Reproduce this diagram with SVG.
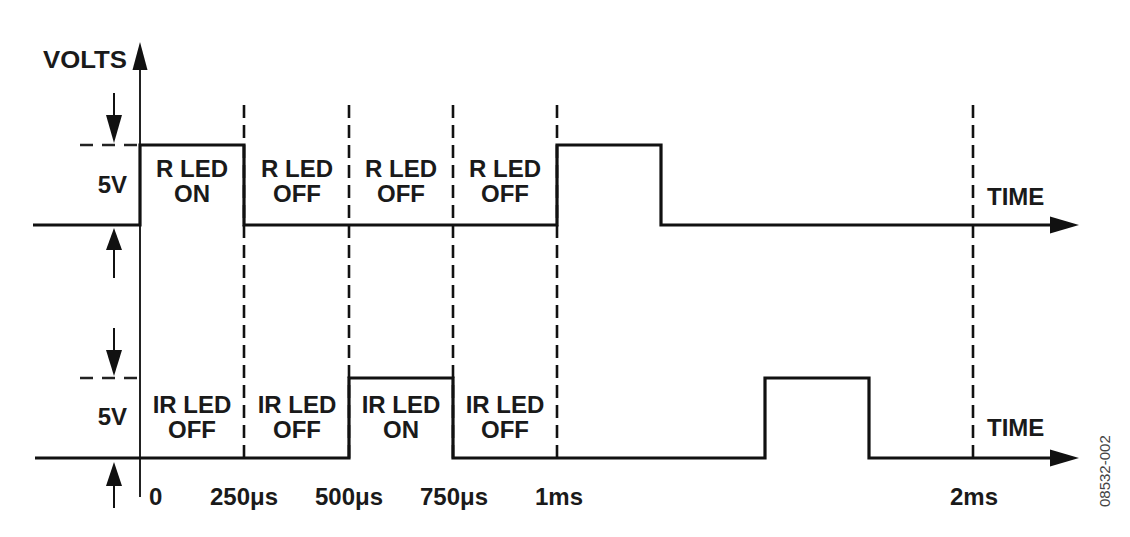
<svg xmlns="http://www.w3.org/2000/svg" width="1130" height="537" viewBox="0 0 1130 537">
<style>
.t{font-family:"Liberation Sans",Arial,sans-serif;font-weight:bold;font-size:24px;fill:#1a1a1a}
.c{text-anchor:middle}
.r{text-anchor:end}
.sig{fill:none;stroke:#111;stroke-width:3.2;stroke-linejoin:miter}
.axis{fill:none;stroke:#222;stroke-width:2}
.grid{fill:none;stroke:#111;stroke-width:2.6;stroke-dasharray:13 7}
.ref{fill:none;stroke:#222;stroke-width:2.6;stroke-dasharray:13 9}
.dim{fill:none;stroke:#111;stroke-width:2}
.head{fill:#111}
.small{font-family:"Liberation Sans",Arial,sans-serif;font-size:15px;fill:#444}
</style>
<rect width="1130" height="537" fill="#fff"/>
<g id="gridlines">
<line class="grid" x1="244" y1="105" x2="244" y2="458"/>
<line class="grid" x1="349" y1="105" x2="349" y2="458"/>
<line class="grid" x1="453" y1="105" x2="453" y2="458"/>
<line class="grid" x1="557" y1="105" x2="557" y2="458"/>
<line class="grid" x1="973" y1="105" x2="973" y2="458"/>
<line class="ref" x1="80" y1="145" x2="140" y2="145"/>
<line class="ref" x1="80" y1="378" x2="140" y2="378"/>
</g>
<g id="volts-axis">
<line class="axis" x1="140" y1="68" x2="140" y2="497"/>
<polygon class="head" points="140,42 132.5,70 147.5,70"/>
<text class="t" x="43" y="68" textLength="84" lengthAdjust="spacingAndGlyphs">VOLTS</text>
</g>
<g id="dimension-arrows">
<line class="dim" x1="114" y1="93" x2="114" y2="116"/>
<polygon class="head" points="106,115 122,115 114,143"/>
<line class="dim" x1="114" y1="249" x2="114" y2="278"/>
<polygon class="head" points="106,250 122,250 114,228"/>
<line class="dim" x1="114" y1="328" x2="114" y2="351"/>
<polygon class="head" points="106,350 122,350 114,376"/>
<line class="dim" x1="114" y1="485" x2="114" y2="508"/>
<polygon class="head" points="106,486 122,486 114,462"/>
<text class="t r" x="127" y="193">5V</text>
<text class="t r" x="127" y="425">5V</text>
</g>
<g id="r-led-signal">
<polyline class="sig" points="33,225 140,225 140,145 244,145 244,225 557,225 557,145 661,145 661,225 1054,225"/>
<polygon class="head" points="1079,225 1050,216.5 1050,233.5"/>
<text class="t" x="987" y="205">TIME</text>
</g>
<g id="ir-led-signal">
<polyline class="sig" points="35,458 349,458 349,378 453,378 453,458 765,458 765,378 869,378 869,458 1054,458"/>
<polygon class="head" points="1079,458 1050,449.5 1050,466.5"/>
<text class="t" x="987" y="436">TIME</text>
</g>
<g id="r-led-labels">
<text class="t c" x="192" y="177">R LED</text>
<text class="t c" x="192" y="202">ON</text>
<text class="t c" x="297" y="177">R LED</text>
<text class="t c" x="297" y="202">OFF</text>
<text class="t c" x="401" y="177">R LED</text>
<text class="t c" x="401" y="202">OFF</text>
<text class="t c" x="505" y="177">R LED</text>
<text class="t c" x="505" y="202">OFF</text>
</g>
<g id="ir-led-labels">
<text class="t c" x="192" y="413">IR LED</text>
<text class="t c" x="192" y="438">OFF</text>
<text class="t c" x="297" y="413">IR LED</text>
<text class="t c" x="297" y="438">OFF</text>
<text class="t c" x="401" y="413">IR LED</text>
<text class="t c" x="401" y="438">ON</text>
<text class="t c" x="505" y="413">IR LED</text>
<text class="t c" x="505" y="438">OFF</text>
</g>
<g id="time-labels">
<text class="t" x="149" y="505">0</text>
<text class="t c" x="244" y="505">250μs</text>
<text class="t c" x="349" y="505">500μs</text>
<text class="t c" x="454" y="505">750μs</text>
<text class="t c" x="559" y="505">1ms</text>
<text class="t c" x="974" y="505">2ms</text>
</g>
<text class="small" transform="translate(1110,507) rotate(-90)">08532-002</text>
</svg>
